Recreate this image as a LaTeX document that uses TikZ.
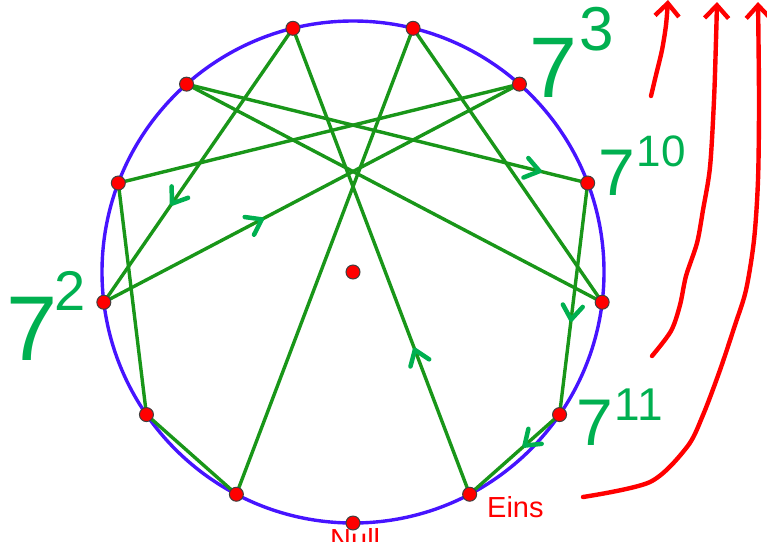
\documentclass[tikz,border=0pt]{standalone}
\usepackage{fontspec}
\setmainfont{Liberation Sans}
\usetikzlibrary{arrows.meta, decorations.markings}
\definecolor{clrCircle}{RGB}{70,20,255}
\definecolor{clrChord}{RGB}{25,150,25}
\definecolor{clrHand}{RGB}{0,176,80}
\definecolor{clrDot}{RGB}{255,0,0}
\definecolor{clrNote}{RGB}{255,0,0}
\newcommand\handpow[5][2pt]{\fontsize{#2}{#2}\selectfont 7\kern#1\raisebox{#4}{\fontsize{#3}{#3}\selectfont #5}}

\begin{document}
\begin{tikzpicture}[x=1pt, y=-1pt,
    dot/.style={circle, draw=black!75, fill=clrDot, minimum size=14pt, inner sep=0pt, line width=1pt},
    chord/.style={draw=clrChord, line width=3.4pt},
    handarrow/.style={postaction={decorate, decoration={markings, mark=at position #1 with {\draw[clrHand, line width=4.5pt, line cap=round, line join=round] (-14,-10) -- (0,0) -- (-14,10);}}}},
    hand/.style={text=clrHand, inner sep=0pt, anchor=base west},
    redlbl/.style={text=clrNote, font=\fontsize{29}{29}\selectfont, inner sep=0pt, anchor=base west},
    redcurve/.style={draw=clrNote, line width=4.4pt, line cap=round, -{Straight Barb[length=13pt, width=24pt, line width=4.4pt]}},
]
\useasboundingbox (0,0) rectangle (767,541);

% points of Z/13 on the circle
\coordinate (c) at (353,272);
\foreach \k in {0,...,12}
  \coordinate (p\k) at ({353+251*cos(-90+\k*360/13)}, {272-251*sin(-90+\k*360/13)});

\draw[clrCircle, line width=3.4pt] (c) circle[radius=251];

% powers of 7: 1, 7, 10, 5, 9, 11, 12, 6, 3, 8, 4, 2, 1
\foreach \a/\b in {1/7, 7/10, 10/5, 5/9, 9/11, 11/12, 12/6, 6/3, 3/8, 8/4, 4/2, 2/1}
  \draw[chord] (p\a) -- (p\b);

% hand drawn arrow marks
\path[handarrow=0.31] (p1) -- (p7);
\path[handarrow=0.64] (p7) -- (p10);
\path[handarrow=0.38] (p10) -- (p5);
\path[handarrow=0.88] (p8) -- (p4);
\path[handarrow=0.59] (p4) -- (p2);
\path[handarrow=0.39] (p2) -- (p1);

% dots
\foreach \k in {0,...,12}
  \node[dot] (d\k) at (p\k) {};
\node[dot] (dc) at (c) {};

% labels
\node[redlbl] (eins) at (487,517) {Eins};
\node[redlbl] (null) at (330,549) {Null};

\node[hand] (h3) at (529,97) {\handpow{86}{62}{47pt}{3}};
\node[hand] (h10) at (598,195) {\handpow{66}{44}{29pt}{10}};
\node[hand] (h2) at (6,360) {\handpow[-3pt]{92}{56}{50pt}{2}};
\node[hand] (h11) at (576,445) {\handpow{66}{46}{25pt}{11}};

% red hand strokes
\draw[redcurve] plot[smooth] coordinates {(651,96) (656,75) (662,50) (666,25) (668,0)};
\draw[redcurve] plot[smooth] coordinates {(652,356) (671,331) (680,305) (686,276) (697,243) (703,210) (710,167) (714,100) (716,40) (717,2)};
\draw[redcurve] plot[smooth] coordinates {(583,497) (650,482) (687,447) (703,415) (720,370) (735,325) (746,290) (754,240) (758,180) (759,100) (758,2)};
\end{tikzpicture}
\end{document}
